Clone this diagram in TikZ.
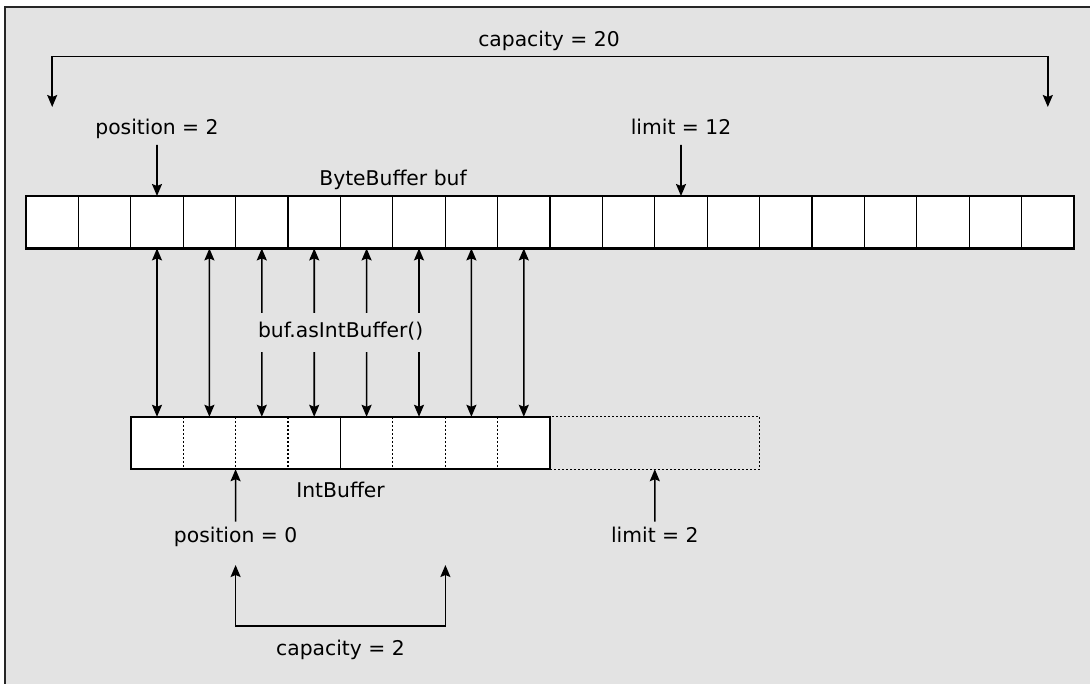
\documentclass[tikz,border=0pt]{standalone}
\usepackage{fontspec}
\setmainfont{DejaVu Sans}
\usetikzlibrary{arrows.meta}
\definecolor{bggray}{HTML}{E3E3E3}
\tikzset{
  lbl/.style={font=\fontsize{20.3}{24}\selectfont, inner sep=0pt, outer xsep=0pt, outer ysep=5.5pt,
              text height=15pt, text depth=4.5pt, anchor=base},
  bcell/.style={draw, line width=1.1pt, fill=white, minimum width=52.4pt, minimum height=52.4pt, inner sep=0pt, outer sep=0pt},
  icell/.style={fill=white, minimum width=52.4pt, minimum height=52.4pt, inner sep=0pt, outer sep=0pt},
  boxline/.style={line width=2.3pt},
  divline/.style={line width=1.1pt},
  dotline/.style={line width=1.1pt, dash pattern=on 2pt off 2pt},
  tip/.tip={Stealth[length=12pt,width=10pt,inset=2pt]},
  arr/.style={line width=1.6pt, -tip},
  dbl/.style={line width=1.6pt, tip-tip},
  frame/.style={line width=1.5pt, draw=black!85}
}
\begin{document}
\begin{tikzpicture}[x=1pt,y=-1pt]
\useasboundingbox (0,0) rectangle (1090,684);
\fill[white] (0,0) rectangle (1090,684);
\fill[bggray] (5,7) rectangle (1090,684);
\draw[frame] (5,684) -- (5,7) -- (1090,7);

% ByteBuffer cells
\foreach \k in {0,...,19} \node[bcell] (b\k) at ({26+52.4*(\k+0.5)},222.2) {};
\draw[boxline] (b0.north west) rectangle (b19.south east);
\node[lbl] (bbl) at (393,186) {ByteBuffer buf};

% IntBuffer cells
\node[draw, dotline, minimum width=209.6pt, minimum height=52.4pt, inner sep=0pt, outer sep=0pt] (iext) at ({130.8+52.4*10},443) {};
\foreach \k in {0,...,7} \node[icell] (i\k) at ({130.8+52.4*(\k+0.5)},443) {};
\foreach \k in {0,1,2,4,5,6} \draw[dotline] (i\k.north east) -- (i\k.south east);
\draw[divline] (i3.north east) -- (i3.south east);
\draw[boxline] (i0.north west) rectangle (i7.south east);
\node[lbl] (ibl) at (340.6,497.3) {IntBuffer};

% double arrows between buffers
\foreach \k/\j in {0/2,1/3,2/4,3/5,4/6,5/7,6/8,7/9} \draw[dbl] (b\j.south) -- (i\k.north);
\node[lbl, fill=bggray, inner xsep=8pt, inner ysep=9.75pt, outer sep=0pt] (asint) at (340.6,338) {buf.asIntBuffer()};

% top labels
\node[lbl] (cap20) at (549,46.7) {capacity = 20};
\coordinate (c20l) at (52.2,107);
\coordinate (c20r) at (1047.8,107);
\draw[dbl] (c20l) -- (52.2,56.7) -- (1047.8,56.7) -- (c20r);

\node[lbl] (pos2) at (157,135) {position = 2};
\draw[arr] (pos2.south) -- (b2.north);
\node[lbl] (lim12) at (681,135) {limit = 12};
\draw[arr] (lim12.south) -- (b12.north);

% bottom labels
\node[lbl] (pos0) at (235.6,542) {position = 0};
\draw[arr] (pos0.north) -- (i2.south west);
\node[lbl] (lim2) at (654.8,542) {limit = 2};
\draw[arr] (lim2.north) -- (iext.south);

\coordinate (c2l) at (235.6,565);
\coordinate (c2r) at (445.4,565);
\draw[dbl] (c2l) -- (235.6,625.7) -- (445.4,625.7) -- (c2r);
\node[lbl] (cap2) at (340.5,655) {capacity = 2};
\end{tikzpicture}
\end{document}
